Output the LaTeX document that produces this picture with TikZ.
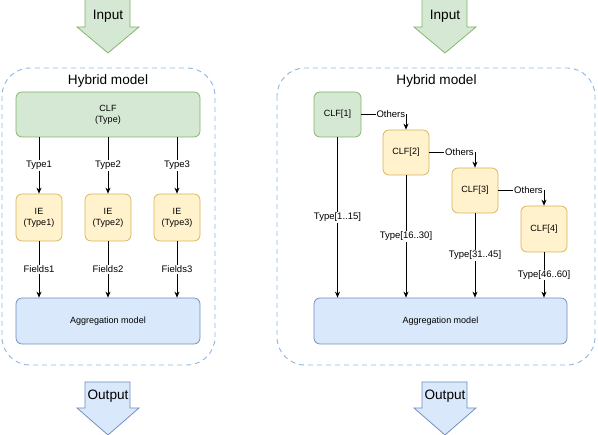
\documentclass[tikz,border=0pt]{standalone}
\usepackage{fontspec}
\setmainfont{Liberation Sans}
\usetikzlibrary{arrows.meta, positioning, calc}
\definecolor{greenfill}{HTML}{D5E8D4}
\definecolor{greenline}{HTML}{82B366}
\definecolor{yellowfill}{HTML}{FFF2CC}
\definecolor{yellowline}{HTML}{D6B656}
\definecolor{bluefill}{HTML}{DAE8FC}
\definecolor{blueline}{HTML}{6C8EBF}
\definecolor{frameblue}{HTML}{8DB4E2}
\tikzset{
  modelbox/.style={
    draw, rounded corners=6pt, line width=0.75pt, align=center,
    font=\fontsize{9}{11}\selectfont, inner sep=0pt
  },
  clfbox/.style={modelbox, fill=greenfill, draw=greenline},
  iebox/.style={modelbox, fill=yellowfill, draw=yellowline,
    minimum width=46pt, minimum height=47pt},
  aggbox/.style={modelbox, fill=bluefill, draw=blueline, minimum height=46pt},
  flowarrow/.style={-{Stealth[length=6pt,width=5pt]}, line width=0.75pt},
  flowlabel/.style={font=\fontsize{9.5}{11}\selectfont, fill=white, inner sep=1pt},
  hybridframe/.style={
    draw=frameblue, dash pattern=on 5pt off 4pt, line width=0.9pt,
    rounded corners=28pt
  },
  bigtext/.style={font=\fontsize{13.6}{16}\selectfont},
  inputarrow/.style={fill=greenfill, draw=greenline, line width=0.75pt},
  outputarrow/.style={fill=bluefill, draw=blueline, line width=0.75pt},
}
\begin{document}
\begin{tikzpicture}[x=1pt, y=-1pt]
  \useasboundingbox (0,0) rectangle (598,435);

  % ── Block arrows ──
  \draw[inputarrow] (85,-2) -- (130,-2) -- (130,27) -- (139,27) -- (108,53)
    -- (77,27) -- (85,27) -- cycle;
  \draw[inputarrow] (422,-2) -- (467,-2) -- (467,27) -- (476,27) -- (445,53)
    -- (414,27) -- (422,27) -- cycle;
  \draw[outputarrow] (85,382) -- (130,382) -- (130,408) -- (139,408) -- (108,435)
    -- (77,408) -- (85,408) -- cycle;
  \draw[outputarrow] (422,382) -- (467,382) -- (467,408) -- (476,408) -- (445,435)
    -- (414,408) -- (422,408) -- cycle;
  \node[bigtext] (inL) at (108,16) {Input};
  \node[bigtext] (inR) at (445,16) {Input};
  \node[bigtext] (outL) at (108,396) {Output};
  \node[bigtext] (outR) at (445,396) {Output};

  % ── Frames ──
  \draw[hybridframe] (2,68) rectangle (215,365);
  \draw[hybridframe] (277,68) rectangle (595,365);
  \node[bigtext] (titleL) at (108,81) {Hybrid model};
  \node[bigtext] (titleR) at (436.5,81) {Hybrid model};

  % ── Left model ──
  \node[clfbox, minimum width=184pt, minimum height=45pt] (clf) at (108,114.5) {CLF\\(Type)};
  \node[iebox] (ie1) at (39,217.5) {IE\\(Type1)};
  \node[iebox] (ie2) at (108,217.5) {IE\\(Type2)};
  \node[iebox] (ie3) at (177,217.5) {IE\\(Type3)};
  \node[aggbox, minimum width=184pt] (aggL) at (108,321) {Aggregation model};

  \draw[flowarrow] (clf.south -| ie1) -- node[flowlabel] {Type1} (ie1);
  \draw[flowarrow] (clf.south -| ie2) -- node[flowlabel] {Type2} (ie2);
  \draw[flowarrow] (clf.south -| ie3) -- node[flowlabel] {Type3} (ie3);
  \draw[flowarrow] (ie1) -- node[flowlabel] {Fields1} (ie1 |- aggL.north);
  \draw[flowarrow] (ie2) -- node[flowlabel] {Fields2} (ie2 |- aggL.north);
  \draw[flowarrow] (ie3) -- node[flowlabel] {Fields3} (ie3 |- aggL.north);

  % ── Right model (cascade) ──
  \node[clfbox, minimum width=47pt, minimum height=45pt] (clf1) at (337.5,114.5) {CLF[1]};
  \node[iebox, minimum height=45pt] (clf2) at (406,152.5) {CLF[2]};
  \node[iebox, minimum height=45pt] (clf3) at (475,190.5) {CLF[3]};
  \node[iebox, minimum height=46pt] (clf4) at (544,229) {CLF[4]};
  \node[aggbox, minimum width=253pt] (aggR) at (440.5,321) {Aggregation model};

  \draw[flowarrow] (clf1) -| node[flowlabel, pos=0.33] {Others} (clf2);
  \draw[flowarrow] (clf2) -| node[flowlabel, pos=0.33] {Others} (clf3);
  \draw[flowarrow] (clf3) -| node[flowlabel, pos=0.33] {Others} (clf4);
  \draw[flowarrow] (clf1) -- node[flowlabel] {Type[1..15]} (clf1 |- aggR.north);
  \draw[flowarrow] (clf2) -- node[flowlabel] {Type[16..30]} (clf2 |- aggR.north);
  \draw[flowarrow] (clf3) -- node[flowlabel] {Type[31..45]} (clf3 |- aggR.north);
  \draw[flowarrow] (clf4) -- node[flowlabel] {Type[46..60]} (clf4 |- aggR.north);
\end{tikzpicture}
\end{document}
